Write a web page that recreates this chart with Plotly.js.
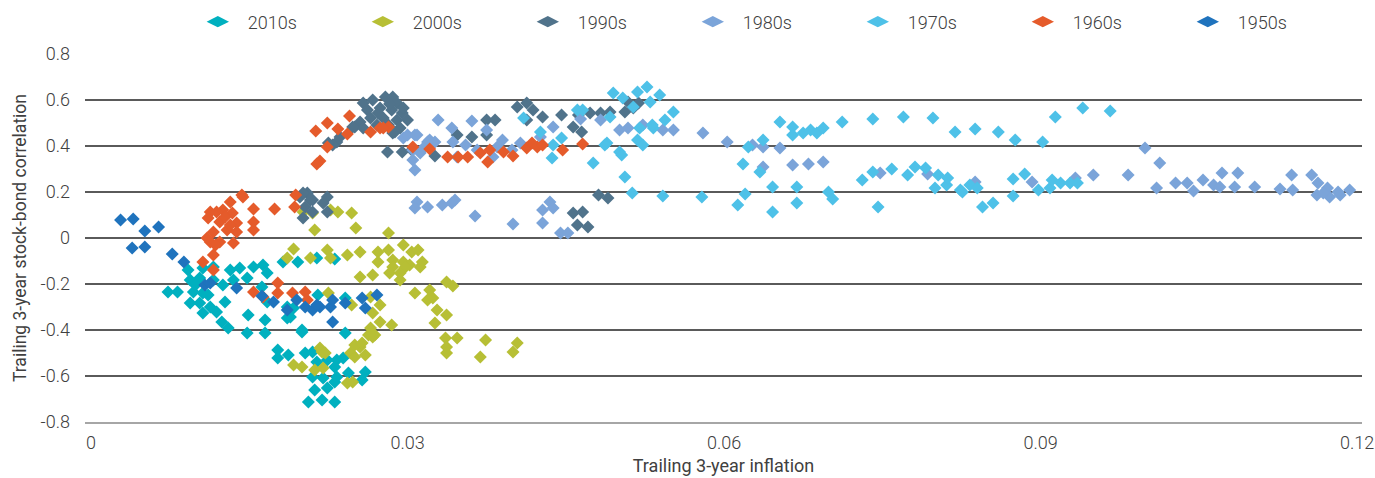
<!DOCTYPE html>
<html>
<head>
<meta charset="utf-8">
<script src="https://cdn.plot.ly/plotly-3.0.1.min.js"></script>
<style>html,body{margin:0;padding:0;background:#fff;}#chart{width:1375px;height:478px;}</style>
</head>
<body>
<div id="chart"></div>
<script>
const seriesNames = ["2010s", "2000s", "1990s", "1980s", "1970s", "1960s", "1950s"];
const seriesColors = ["#00B0BF", "#B7BF35", "#50738B", "#7BA4D9", "#4EC1E8", "#E55B2B", "#1F73BD"];
const xTicks = [0, 0.03, 0.06, 0.09, 0.12];
const xTickLabels = ["0", "0.03", "0.06", "0.09", "0.12"];
const yTicks = [-0.8, -0.6, -0.4, -0.2, 0, 0.2, 0.4, 0.6, 0.8];
const yTickLabels = ["-0.8", "-0.6", "-0.4", "-0.2", "0", "0.2", "0.4", "0.6", "0.8"];

const x2010s = [0.0092,0.0106,0.0116,0.0132,0.0141,0.0154,0.0163,0.0167,0.0094,0.0103,0.0116,0.0125,0.0135,0.0148,0.0162,0.0073,0.0082,0.0097,0.0106,0.0094,0.0103,0.0113,0.0106,0.0119,0.0127,0.0124,0.0130,0.0149,0.0165,0.0148,0.0165,0.0167,0.0186,0.0186,0.0192,0.0200,0.0182,0.0196,0.0214,0.0231,0.0215,0.0241,0.0189,0.0241,0.0200,0.0177,0.0187,0.0203,0.0210,0.0177,0.0214,0.0224,0.0233,0.0239,0.0231,0.0210,0.0220,0.0233,0.0244,0.0260,0.0257,0.0231,0.0212,0.0224,0.0206,0.0219,0.0231,0.0099,0.0111];
const y2010s = [-0.139,-0.130,-0.126,-0.139,-0.130,-0.126,-0.117,-0.152,-0.183,-0.174,-0.183,-0.204,-0.183,-0.174,-0.213,-0.235,-0.235,-0.235,-0.239,-0.283,-0.283,-0.300,-0.326,-0.322,-0.278,-0.365,-0.391,-0.335,-0.357,-0.413,-0.413,-0.278,-0.300,-0.348,-0.304,-0.400,-0.104,-0.104,-0.087,-0.091,-0.248,-0.261,-0.343,-0.413,-0.409,-0.487,-0.509,-0.500,-0.496,-0.522,-0.539,-0.530,-0.530,-0.522,-0.561,-0.604,-0.609,-0.604,-0.587,-0.583,-0.617,-0.626,-0.661,-0.652,-0.713,-0.704,-0.713,-0.204,-0.248];

const x2000s = [0.0201,0.0210,0.0227,0.0234,0.0247,0.0212,0.0251,0.0282,0.0192,0.0224,0.0243,0.0255,0.0272,0.0282,0.0296,0.0304,0.0310,0.0186,0.0208,0.0227,0.0272,0.0286,0.0296,0.0302,0.0314,0.0312,0.0286,0.0298,0.0283,0.0293,0.0255,0.0267,0.0293,0.0337,0.0343,0.0307,0.0321,0.0319,0.0324,0.0328,0.0337,0.0326,0.0225,0.0265,0.0274,0.0247,0.0267,0.0274,0.0285,0.0265,0.0267,0.0255,0.0246,0.0336,0.0347,0.0337,0.0374,0.0404,0.0400,0.0369,0.0337,0.0219,0.0263,0.0269,0.0217,0.0222,0.0192,0.0200,0.0212,0.0220,0.0250,0.0257,0.0250,0.0260,0.0243,0.0248];
const y2000s = [0.113,0.109,0.122,0.113,0.109,0.035,0.043,0.022,-0.048,-0.052,-0.074,-0.061,-0.061,-0.052,-0.030,-0.061,-0.052,-0.087,-0.087,-0.087,-0.104,-0.096,-0.104,-0.117,-0.104,-0.126,-0.126,-0.126,-0.152,-0.152,-0.170,-0.161,-0.183,-0.191,-0.209,-0.239,-0.226,-0.270,-0.261,-0.313,-0.335,-0.370,-0.239,-0.257,-0.291,-0.291,-0.326,-0.365,-0.378,-0.391,-0.430,-0.474,-0.500,-0.435,-0.435,-0.474,-0.443,-0.457,-0.496,-0.517,-0.500,-0.496,-0.422,-0.422,-0.478,-0.500,-0.552,-0.561,-0.574,-0.565,-0.465,-0.457,-0.517,-0.509,-0.630,-0.626];

const x1990s = [0.0258,0.0267,0.0279,0.0286,0.0290,0.0262,0.0274,0.0285,0.0295,0.0265,0.0277,0.0290,0.0300,0.0255,0.0250,0.0258,0.0271,0.0282,0.0293,0.0286,0.0236,0.0233,0.0229,0.0225,0.0248,0.0281,0.0295,0.0304,0.0205,0.0198,0.0210,0.0224,0.0220,0.0224,0.0201,0.0201,0.0208,0.0203,0.0210,0.0288,0.0326,0.0347,0.0361,0.0375,0.0375,0.0383,0.0404,0.0413,0.0419,0.0413,0.0428,0.0446,0.0462,0.0473,0.0483,0.0492,0.0506,0.0509,0.0519,0.0514,0.0457,0.0465,0.0481,0.0490,0.0457,0.0466,0.0461,0.0471,0.0272,0.0283,0.0296];
const y1990s = [0.587,0.600,0.613,0.613,0.587,0.557,0.565,0.557,0.543,0.522,0.522,0.513,0.513,0.504,0.483,0.478,0.491,0.491,0.478,0.457,0.439,0.417,0.404,0.413,0.483,0.374,0.374,0.383,0.196,0.178,0.165,0.178,0.152,0.113,0.087,0.196,0.165,0.135,0.113,0.461,0.357,0.448,0.439,0.448,0.513,0.513,0.570,0.587,0.557,0.513,0.526,0.535,0.535,0.543,0.543,0.548,0.548,0.591,0.587,0.565,0.483,0.461,0.187,0.174,0.109,0.113,0.057,0.048,0.543,0.583,0.565];

const x1980s = [0.0329,0.0361,0.0342,0.0375,0.0296,0.0307,0.0319,0.0326,0.0343,0.0355,0.0305,0.0312,0.0366,0.0385,0.0390,0.0407,0.0399,0.0381,0.0347,0.0305,0.0307,0.0426,0.0438,0.0464,0.0483,0.0501,0.0509,0.0523,0.0542,0.0552,0.0309,0.0307,0.0319,0.0333,0.0342,0.0345,0.0364,0.0400,0.0435,0.0428,0.0438,0.0428,0.0445,0.0452,0.0300,0.0309,0.0321,0.0315,0.0580,0.0603,0.0627,0.0637,0.0653,0.0637,0.0665,0.0680,0.0694,0.0748,0.0793,0.0838,0.0892,0.0933,0.0950,0.0983,0.0999,0.1013,0.1010,0.1028,0.1039,0.1045,0.1054,0.1072,0.1087,0.1064,0.1070,0.1084,0.1103,0.1127,0.1138,0.1139,0.1157,0.1163,0.1172,0.1162,0.1174,0.1184,0.1193,0.1182,0.1168];
const y1980s = [0.513,0.509,0.478,0.470,0.435,0.448,0.417,0.417,0.417,0.404,0.383,0.370,0.383,0.396,0.426,0.413,0.383,0.352,0.352,0.339,0.296,0.439,0.483,0.517,0.513,0.470,0.478,0.491,0.470,0.470,0.157,0.130,0.135,0.143,0.152,0.165,0.096,0.061,0.157,0.122,0.130,0.065,0.022,0.022,0.448,0.448,0.426,0.391,0.457,0.417,0.404,0.396,0.391,0.309,0.317,0.322,0.330,0.283,0.278,0.243,0.243,0.261,0.274,0.274,0.391,0.326,0.217,0.239,0.239,0.204,0.252,0.283,0.283,0.230,0.222,0.222,0.222,0.213,0.274,0.209,0.274,0.239,0.217,0.187,0.178,0.187,0.209,0.200,0.196];

const x1970s = [0.0495,0.0518,0.0527,0.0539,0.0530,0.0504,0.0461,0.0410,0.0426,0.0446,0.0438,0.0437,0.0476,0.0489,0.0501,0.0518,0.0523,0.0506,0.0513,0.0542,0.0544,0.0552,0.0533,0.0520,0.0492,0.0466,0.0514,0.0532,0.0487,0.0503,0.0579,0.0618,0.0634,0.0623,0.0637,0.0613,0.0620,0.0646,0.0646,0.0669,0.0669,0.0653,0.0665,0.0665,0.0675,0.0682,0.0688,0.0694,0.0712,0.0741,0.0770,0.0798,0.0819,0.0838,0.0699,0.0703,0.0731,0.0741,0.0759,0.0774,0.0781,0.0791,0.0803,0.0811,0.0800,0.0826,0.0746,0.0812,0.0833,0.0860,0.0876,0.0902,0.0914,0.0940,0.0966,0.0840,0.0845,0.0855,0.0874,0.0885,0.0874,0.0898,0.0909,0.0911,0.0919,0.0928,0.0935,0.0824];
const y1970s = [0.630,0.635,0.657,0.622,0.591,0.609,0.557,0.522,0.461,0.435,0.404,0.348,0.326,0.413,0.374,0.426,0.404,0.265,0.196,0.183,0.513,0.548,0.478,0.478,0.526,0.557,0.570,0.491,0.404,0.361,0.178,0.322,0.287,0.396,0.426,0.143,0.191,0.222,0.113,0.222,0.152,0.504,0.483,0.448,0.457,0.470,0.457,0.478,0.504,0.517,0.526,0.522,0.461,0.474,0.200,0.170,0.252,0.287,0.300,0.274,0.309,0.304,0.274,0.230,0.217,0.200,0.135,0.261,0.230,0.461,0.426,0.417,0.526,0.565,0.552,0.217,0.135,0.152,0.257,0.278,0.183,0.209,0.217,0.252,0.239,0.239,0.239,0.209];

const x1960s = [0.0143,0.0132,0.0154,0.0174,0.0113,0.0125,0.0134,0.0122,0.0138,0.0154,0.0116,0.0129,0.0138,0.0154,0.0113,0.0122,0.0135,0.0116,0.0106,0.0116,0.0194,0.0193,0.0217,0.0245,0.0224,0.0213,0.0234,0.0243,0.0265,0.0274,0.0282,0.0224,0.0214,0.0277,0.0305,0.0321,0.0338,0.0348,0.0357,0.0369,0.0378,0.0376,0.0391,0.0400,0.0413,0.0418,0.0423,0.0428,0.0447,0.0466,0.0177,0.0177,0.0154,0.0163,0.0191,0.0203,0.0205,0.0119,0.0111,0.0127,0.0144,0.0132,0.0118,0.0110];
const y1960s = [0.187,0.157,0.126,0.126,0.113,0.122,0.109,0.070,0.065,0.070,0.026,0.035,0.026,0.035,-0.017,-0.017,-0.022,-0.074,-0.104,-0.139,0.187,0.135,0.335,0.530,0.500,0.465,0.474,0.452,0.461,0.478,0.483,0.396,0.322,0.478,0.396,0.387,0.352,0.352,0.352,0.370,0.383,0.330,0.374,0.357,0.391,0.413,0.396,0.404,0.383,0.409,-0.196,-0.239,-0.235,-0.257,-0.239,-0.235,-0.270,0.113,0.087,0.091,0.178,0.057,-0.030,0.000];

const x1950s = [0.0028,0.0040,0.0051,0.0064,0.0039,0.0051,0.0077,0.0088,0.0108,0.0138,0.0162,0.0173,0.0186,0.0195,0.0203,0.0210,0.0217,0.0227,0.0229,0.0241,0.0257,0.0260,0.0271,0.0229,0.0214,0.0113];
const y1950s = [0.078,0.083,0.030,0.048,-0.043,-0.039,-0.070,-0.104,-0.204,-0.217,-0.252,-0.278,-0.313,-0.270,-0.300,-0.313,-0.300,-0.300,-0.270,-0.283,-0.261,-0.304,-0.248,-0.365,-0.291,-0.196];

const xs = [x2010s, x2000s, x1990s, x1980s, x1970s, x1960s, x1950s];
const ys = [y2010s, y2000s, y1990s, y1980s, y1970s, y1960s, y1950s];

const FONT = "Roboto, 'Noto Sans', sans-serif";
const TXT = "#404040";

// data traces (legend hidden), drawn in legend order so later decades sit on top
const dataTraces = seriesNames.map((name, i) => ({
  type: "scatter",
  mode: "markers",
  name: name,
  legendgroup: name,
  showlegend: false,
  x: xs[i],
  y: ys[i],
  marker: {symbol: "diamond", size: 10, color: seriesColors[i], line: {width: 0}}
}));
// legend entries with the larger legend key
const legendTraces = seriesNames.map((name, i) => ({
  type: "scatter",
  mode: "markers",
  name: name,
  legendgroup: name,
  showlegend: true,
  x: [null],
  y: [null],
  marker: {symbol: "diamond-wide", size: 16, color: seriesColors[i], line: {width: 0}}
}));

const layout = {
  width: 1375,
  height: 478,
  margin: {l: 85, r: 13, t: 54, b: 56, autoexpand: false},
  paper_bgcolor: "#ffffff",
  plot_bgcolor: "#ffffff",
  font: {family: FONT, size: 18, color: TXT, weight: 300},
  showlegend: true,
  legend: {
    orientation: "h",
    x: 0.0805, xanchor: "left",
    y: 1.087, yanchor: "middle",
    entrywidth: 100, entrywidthmode: "pixels",
    itemwidth: 50,
    font: {family: FONT, size: 18, color: TXT, weight: 300},
    traceorder: "normal"
  },
  xaxis: {
    range: [-0.00057, 0.12047],
    tickvals: xTicks,
    ticktext: xTickLabels,
    showgrid: false,
    zeroline: false,
    showline: true,
    linecolor: "#a6a6a6",
    linewidth: 2,
    ticks: "",
    ticklabelstandoff: 3,
    automargin: false,
    tickfont: {family: FONT, size: 18, color: TXT, weight: 300},
    title: {text: "Trailing 3-year inflation", font: {family: FONT, size: 18, color: TXT, weight: 400}, standoff: 8}
  },
  yaxis: {
    range: [-0.8, 0.8],
    tickvals: yTicks,
    ticktext: yTickLabels,
    showgrid: true,
    gridcolor: "#5a5a5a",
    gridwidth: 1.3,
    zeroline: false,
    showline: false,
    ticks: "",
    ticklabelstandoff: 14,
    automargin: false,
    tickfont: {family: FONT, size: 18, color: TXT, weight: 300},
    title: {text: "Trailing 3-year stock-bond correlation", font: {family: FONT, size: 17.5, color: TXT, weight: 400}, standoff: 9}
  }
};

Plotly.newPlot("chart", dataTraces.concat(legendTraces), layout, {displayModeBar: false, staticPlot: true});
</script>
</body>
</html>
